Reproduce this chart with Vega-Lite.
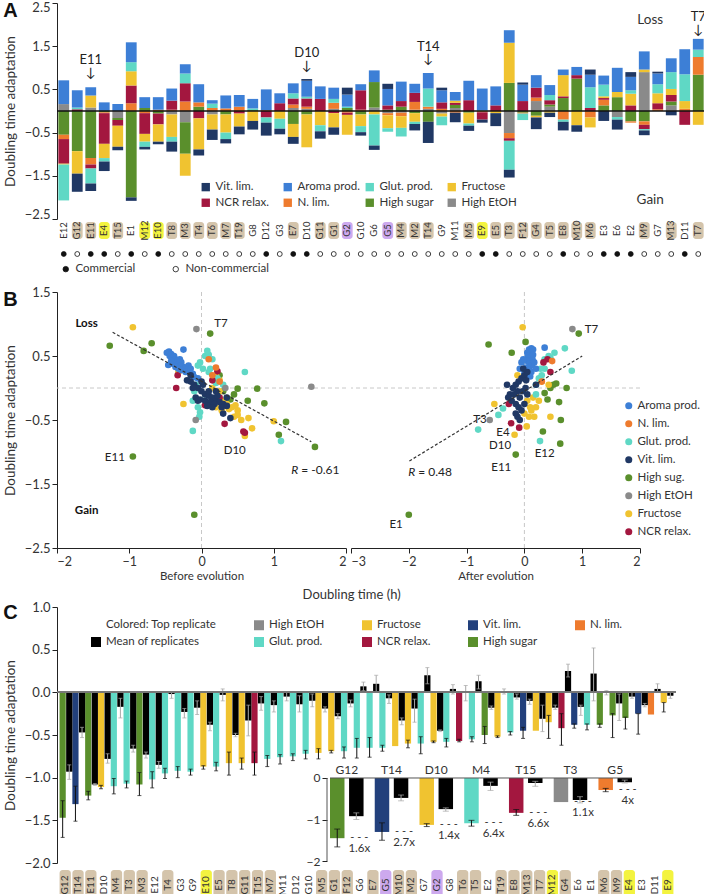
{
"$schema":"https://vega.github.io/schema/vega-lite/v6.json",
"padding":{"left":3,"top":1,"right":0,"bottom":0},
"spacing":-1,
"config":{"font":"Lato","view":{"stroke":null},
 "axis":{"labelFontSize":13,"titleFontSize":13.5,"titleFontWeight":"normal","labelColor":"#333","titleColor":"#333","domainColor":"#222","tickColor":"#222","grid":false,"tickSize":5,"labelPadding":2},
 "axisY":{"titlePadding":7},
 "legend":{"labelFontSize":11.5,"labelColor":"#333"},
 "title":{"font":"Liberation Sans","fontSize":20,"fontWeight":"bold","color":"#111","anchor":"start","frame":"bounds"}},
"resolve":{"scale":{"color":"independent","fill":"independent","x":"independent","y":"independent"},"legend":{"color":"independent","fill":"independent"}},
"datasets":{
"cats":[{"c":"High EtOH","k":1},{"c":"High sugar","k":2},{"c":"N. lim.","k":3},{"c":"NCR relax.","k":4},{"c":"Fructose","k":5},{"c":"Glut. prod.","k":6},{"c":"Aroma prod.","k":7},{"c":"Vit. lim.","k":8}],
"aBars":[
{"s":"E12","c":"High EtOH","v":0.16},{"s":"E12","c":"Aroma prod.","v":0.55},{"s":"E12","c":"High sugar","v":-0.55},{"s":"E12","c":"N. lim.","v":-0.1},{"s":"E12","c":"NCR relax.","v":-0.57},{"s":"E12","c":"Fructose","v":-0.02},{"s":"E12","c":"Glut. prod.","v":-0.83},
{"s":"G12","c":"NCR relax.","v":0.04},{"s":"G12","c":"Glut. prod.","v":0.04},{"s":"G12","c":"Aroma prod.","v":0.4},{"s":"G12","c":"High sugar","v":-0.93},{"s":"G12","c":"Fructose","v":-0.52},{"s":"G12","c":"Vit. lim.","v":-0.42},
{"s":"E11","c":"High EtOH","v":0.08},{"s":"E11","c":"Fructose","v":0.28},{"s":"E11","c":"Aroma prod.","v":0.19},{"s":"E11","c":"High sugar","v":-1.09},{"s":"E11","c":"N. lim.","v":-0.15},{"s":"E11","c":"NCR relax.","v":-0.09},{"s":"E11","c":"Glut. prod.","v":-0.35},{"s":"E11","c":"Vit. lim.","v":-0.17},
{"s":"E4","c":"Aroma prod.","v":0.2},{"s":"E4","c":"High sugar","v":-0.03},{"s":"E4","c":"N. lim.","v":-0.02},{"s":"E4","c":"NCR relax.","v":-0.71},{"s":"E4","c":"Fructose","v":-0.33},{"s":"E4","c":"Glut. prod.","v":-0.08},{"s":"E4","c":"Vit. lim.","v":-0.22},
{"s":"T15","c":"Aroma prod.","v":0.16},{"s":"T15","c":"High EtOH","v":-0.16},{"s":"T15","c":"High sugar","v":-0.05},{"s":"T15","c":"NCR relax.","v":-0.13},{"s":"T15","c":"Fructose","v":-0.49},{"s":"T15","c":"Vit. lim.","v":-0.08},
{"s":"E1","c":"N. lim.","v":0.18},{"s":"E1","c":"NCR relax.","v":0.41},{"s":"E1","c":"Fructose","v":0.33},{"s":"E1","c":"Glut. prod.","v":0.21},{"s":"E1","c":"Aroma prod.","v":0.46},{"s":"E1","c":"High sugar","v":-2.0},{"s":"E1","c":"Vit. lim.","v":-0.08},
{"s":"M12","c":"High sugar","v":0.07},{"s":"M12","c":"Aroma prod.","v":0.25},{"s":"M12","c":"N. lim.","v":-0.05},{"s":"M12","c":"NCR relax.","v":-0.48},{"s":"M12","c":"Fructose","v":-0.18},{"s":"M12","c":"Glut. prod.","v":-0.12},{"s":"M12","c":"Vit. lim.","v":-0.06},
{"s":"E10","c":"N. lim.","v":0.03},{"s":"E10","c":"Aroma prod.","v":0.29},{"s":"E10","c":"High sugar","v":-0.06},{"s":"E10","c":"NCR relax.","v":-0.25},{"s":"E10","c":"Fructose","v":-0.4},{"s":"E10","c":"Vit. lim.","v":-0.06},
{"s":"T8","c":"N. lim.","v":0.03},{"s":"T8","c":"NCR relax.","v":0.21},{"s":"T8","c":"Aroma prod.","v":0.28},{"s":"T8","c":"High EtOH","v":-0.08},{"s":"T8","c":"Fructose","v":-0.52},{"s":"T8","c":"Glut. prod.","v":-0.11},{"s":"T8","c":"Vit. lim.","v":-0.23},
{"s":"M3","c":"N. lim.","v":0.22},{"s":"M3","c":"NCR relax.","v":0.42},{"s":"M3","c":"Glut. prod.","v":0.23},{"s":"M3","c":"Aroma prod.","v":0.21},{"s":"M3","c":"High EtOH","v":-0.26},{"s":"M3","c":"High sugar","v":-0.73},{"s":"M3","c":"Fructose","v":-0.51},
{"s":"T4","c":"High sugar","v":0.1},{"s":"T4","c":"N. lim.","v":0.1},{"s":"T4","c":"Aroma prod.","v":0.42},{"s":"T4","c":"NCR relax.","v":-0.17},{"s":"T4","c":"Fructose","v":-0.72},{"s":"T4","c":"Vit. lim.","v":-0.14},
{"s":"T6","c":"N. lim.","v":0.07},{"s":"T6","c":"Glut. prod.","v":0.1},{"s":"T6","c":"Aroma prod.","v":0.08},{"s":"T6","c":"High EtOH","v":-0.08},{"s":"T6","c":"Fructose","v":-0.35},{"s":"T6","c":"Vit. lim.","v":-0.24},
{"s":"M7","c":"N. lim.","v":0.06},{"s":"M7","c":"Aroma prod.","v":0.3},{"s":"M7","c":"High sugar","v":-0.08},{"s":"M7","c":"Fructose","v":-0.42},{"s":"M7","c":"Glut. prod.","v":-0.15},{"s":"M7","c":"Vit. lim.","v":-0.1},
{"s":"T19","c":"N. lim.","v":0.1},{"s":"T19","c":"Aroma prod.","v":0.27},{"s":"T19","c":"NCR relax.","v":-0.06},{"s":"T19","c":"Fructose","v":-0.3},{"s":"T19","c":"Vit. lim.","v":-0.18},
{"s":"G8","c":"High sugar","v":0.02},{"s":"G8","c":"Glut. prod.","v":0.04},{"s":"G8","c":"Aroma prod.","v":0.22},{"s":"G8","c":"Fructose","v":-0.23},{"s":"G8","c":"Vit. lim.","v":-0.2},
{"s":"D12","c":"N. lim.","v":0.02},{"s":"D12","c":"Aroma prod.","v":0.48},{"s":"D12","c":"NCR relax.","v":-0.15},{"s":"D12","c":"Glut. prod.","v":-0.12},{"s":"D12","c":"Vit. lim.","v":-0.3},
{"s":"G3","c":"NCR relax.","v":0.18},{"s":"G3","c":"Aroma prod.","v":0.23},{"s":"G3","c":"Fructose","v":-0.18},{"s":"G3","c":"Glut. prod.","v":-0.23},{"s":"G3","c":"Vit. lim.","v":-0.13},
{"s":"E7","c":"High EtOH","v":0.07},{"s":"E7","c":"N. lim.","v":0.08},{"s":"E7","c":"NCR relax.","v":0.14},{"s":"E7","c":"Glut. prod.","v":0.12},{"s":"E7","c":"Aroma prod.","v":0.23},{"s":"E7","c":"High sugar","v":-0.3},{"s":"E7","c":"Fructose","v":-0.3},{"s":"E7","c":"Vit. lim.","v":-0.16},
{"s":"D10","c":"High EtOH","v":0.05},{"s":"D10","c":"N. lim.","v":0.05},{"s":"D10","c":"NCR relax.","v":0.19},{"s":"D10","c":"Glut. prod.","v":0.04},{"s":"D10","c":"Aroma prod.","v":0.37},{"s":"D10","c":"Vit. lim.","v":0.04},{"s":"D10","c":"High sugar","v":-0.08},{"s":"D10","c":"Fructose","v":-0.76},
{"s":"G11","c":"NCR relax.","v":0.28},{"s":"G11","c":"Aroma prod.","v":0.29},{"s":"G11","c":"Fructose","v":-0.33},{"s":"G11","c":"Glut. prod.","v":-0.14},{"s":"G11","c":"Vit. lim.","v":-0.17},
{"s":"G1","c":"High EtOH","v":0.05},{"s":"G1","c":"N. lim.","v":0.14},{"s":"G1","c":"Glut. prod.","v":0.09},{"s":"G1","c":"Aroma prod.","v":0.26},{"s":"G1","c":"NCR relax.","v":-0.05},{"s":"G1","c":"Fructose","v":-0.33},{"s":"G1","c":"Vit. lim.","v":-0.17},
{"s":"G2","c":"High sugar","v":0.07},{"s":"G2","c":"Glut. prod.","v":0.03},{"s":"G2","c":"Aroma prod.","v":0.28},{"s":"G2","c":"Vit. lim.","v":0.16},{"s":"G2","c":"N. lim.","v":-0.04},{"s":"G2","c":"NCR relax.","v":-0.05},{"s":"G2","c":"Fructose","v":-0.46},
{"s":"G10","c":"N. lim.","v":0.03},{"s":"G10","c":"NCR relax.","v":0.45},{"s":"G10","c":"Aroma prod.","v":0.14},{"s":"G10","c":"High sugar","v":-0.08},{"s":"G10","c":"Fructose","v":-0.27},{"s":"G10","c":"Glut. prod.","v":-0.14},{"s":"G10","c":"Vit. lim.","v":-0.08},
{"s":"G6","c":"High EtOH","v":0.08},{"s":"G6","c":"High sugar","v":0.59},{"s":"G6","c":"Aroma prod.","v":0.27},{"s":"G6","c":"Fructose","v":-0.08},{"s":"G6","c":"Glut. prod.","v":-0.72},{"s":"G6","c":"Vit. lim.","v":-0.1},
{"s":"G5","c":"High sugar","v":0.03},{"s":"G5","c":"NCR relax.","v":0.1},{"s":"G5","c":"Aroma prod.","v":0.38},{"s":"G5","c":"Vit. lim.","v":0.12},{"s":"G5","c":"High EtOH","v":-0.05},{"s":"G5","c":"N. lim.","v":-0.05},{"s":"G5","c":"Fructose","v":-0.3},{"s":"G5","c":"Glut. prod.","v":-0.08},
{"s":"M4","c":"High sugar","v":0.1},{"s":"M4","c":"NCR relax.","v":0.13},{"s":"M4","c":"Aroma prod.","v":0.45},{"s":"M4","c":"High EtOH","v":-0.04},{"s":"M4","c":"N. lim.","v":-0.08},{"s":"M4","c":"Fructose","v":-0.27},{"s":"M4","c":"Glut. prod.","v":-0.2},
{"s":"M2","c":"High EtOH","v":0.03},{"s":"M2","c":"N. lim.","v":0.18},{"s":"M2","c":"NCR relax.","v":0.21},{"s":"M2","c":"Aroma prod.","v":0.21},{"s":"M2","c":"High sugar","v":-0.05},{"s":"M2","c":"Fructose","v":-0.2},{"s":"M2","c":"Glut. prod.","v":-0.05},{"s":"M2","c":"Vit. lim.","v":-0.15},
{"s":"T14","c":"High EtOH","v":0.05},{"s":"T14","c":"N. lim.","v":0.05},{"s":"T14","c":"Glut. prod.","v":0.42},{"s":"T14","c":"Aroma prod.","v":0.36},{"s":"T14","c":"High sugar","v":-0.25},{"s":"T14","c":"Vit. lim.","v":-0.49},
{"s":"G9","c":"N. lim.","v":0.05},{"s":"G9","c":"NCR relax.","v":0.15},{"s":"G9","c":"Aroma prod.","v":0.28},{"s":"G9","c":"Vit. lim.","v":0.06},{"s":"G9","c":"High EtOH","v":-0.06},{"s":"G9","c":"Fructose","v":-0.07},{"s":"G9","c":"Glut. prod.","v":-0.2},
{"s":"M11","c":"High EtOH","v":0.07},{"s":"M11","c":"High sugar","v":0.07},{"s":"M11","c":"NCR relax.","v":0.05},{"s":"M11","c":"Fructose","v":0.05},{"s":"M11","c":"Aroma prod.","v":0.2},{"s":"M11","c":"N. lim.","v":-0.04},{"s":"M11","c":"Vit. lim.","v":-0.22},
{"s":"M5","c":"NCR relax.","v":0.25},{"s":"M5","c":"Aroma prod.","v":0.45},{"s":"M5","c":"High sugar","v":-0.04},{"s":"M5","c":"Fructose","v":-0.25},{"s":"M5","c":"Glut. prod.","v":-0.05},{"s":"M5","c":"Vit. lim.","v":-0.12},
{"s":"E9","c":"Glut. prod.","v":0.02},{"s":"E9","c":"Aroma prod.","v":0.5},{"s":"E9","c":"N. lim.","v":-0.03},{"s":"E9","c":"NCR relax.","v":-0.17},{"s":"E9","c":"Vit. lim.","v":-0.07},
{"s":"E5","c":"NCR relax.","v":0.13},{"s":"E5","c":"Aroma prod.","v":0.44},{"s":"E5","c":"Fructose","v":-0.05},{"s":"E5","c":"Vit. lim.","v":-0.3},
{"s":"T3","c":"High sugar","v":0.65},{"s":"T3","c":"Fructose","v":0.93},{"s":"T3","c":"Aroma prod.","v":0.29},{"s":"T3","c":"High EtOH","v":-0.51},{"s":"T3","c":"N. lim.","v":-0.12},{"s":"T3","c":"NCR relax.","v":-0.06},{"s":"T3","c":"Glut. prod.","v":-0.67},{"s":"T3","c":"Vit. lim.","v":-0.18},
{"s":"F12","c":"NCR relax.","v":0.23},{"s":"F12","c":"Aroma prod.","v":0.38},{"s":"F12","c":"Vit. lim.","v":0.05},{"s":"F12","c":"High sugar","v":-0.04},{"s":"F12","c":"N. lim.","v":-0.02},{"s":"F12","c":"Glut. prod.","v":-0.15},
{"s":"G4","c":"High EtOH","v":0.23},{"s":"G4","c":"N. lim.","v":0.08},{"s":"G4","c":"NCR relax.","v":0.23},{"s":"G4","c":"Aroma prod.","v":0.29},{"s":"G4","c":"High sugar","v":-0.11},{"s":"G4","c":"Fructose","v":-0.04},{"s":"G4","c":"Vit. lim.","v":-0.27},
{"s":"T5","c":"High EtOH","v":0.1},{"s":"T5","c":"High sugar","v":0.05},{"s":"T5","c":"NCR relax.","v":0.1},{"s":"T5","c":"Glut. prod.","v":0.12},{"s":"T5","c":"Aroma prod.","v":0.23},{"s":"T5","c":"Fructose","v":-0.04},{"s":"T5","c":"Vit. lim.","v":-0.1},
{"s":"E8","c":"High sugar","v":0.3},{"s":"E8","c":"NCR relax.","v":0.04},{"s":"E8","c":"Fructose","v":0.49},{"s":"E8","c":"Aroma prod.","v":0.13},{"s":"E8","c":"N. lim.","v":-0.2},{"s":"E8","c":"Glut. prod.","v":-0.05},{"s":"E8","c":"Vit. lim.","v":-0.2},
{"s":"M10","c":"High sugar","v":0.75},{"s":"M10","c":"NCR relax.","v":0.08},{"s":"M10","c":"Aroma prod.","v":0.19},{"s":"M10","c":"Fructose","v":-0.33},{"s":"M10","c":"Vit. lim.","v":-0.15},
{"s":"M6","c":"NCR relax.","v":0.07},{"s":"M6","c":"Glut. prod.","v":0.48},{"s":"M6","c":"Aroma prod.","v":0.29},{"s":"M6","c":"Vit. lim.","v":0.12},{"s":"M6","c":"N. lim.","v":-0.15},{"s":"M6","c":"Fructose","v":-0.23},
{"s":"E3","c":"High sugar","v":0.13},{"s":"E3","c":"N. lim.","v":0.13},{"s":"E3","c":"NCR relax.","v":0.04},{"s":"E3","c":"Fructose","v":0.04},{"s":"E3","c":"Glut. prod.","v":0.27},{"s":"E3","c":"Aroma prod.","v":0.21},{"s":"E3","c":"Vit. lim.","v":-0.23},
{"s":"E6","c":"High sugar","v":0.32},{"s":"E6","c":"Fructose","v":0.12},{"s":"E6","c":"Aroma prod.","v":0.56},{"s":"E6","c":"High EtOH","v":-0.14},{"s":"E6","c":"Glut. prod.","v":-0.06},{"s":"E6","c":"Vit. lim.","v":-0.23},
{"s":"E2","c":"NCR relax.","v":0.13},{"s":"E2","c":"Fructose","v":0.27},{"s":"E2","c":"Glut. prod.","v":0.08},{"s":"E2","c":"Aroma prod.","v":0.31},{"s":"E2","c":"Vit. lim.","v":0.11},{"s":"E2","c":"High sugar","v":-0.24},{"s":"E2","c":"N. lim.","v":-0.03},
{"s":"M9","c":"High EtOH","v":0.9},{"s":"M9","c":"Fructose","v":0.06},{"s":"M9","c":"Aroma prod.","v":0.42},{"s":"M9","c":"High sugar","v":-0.24},{"s":"M9","c":"N. lim.","v":-0.08},{"s":"M9","c":"NCR relax.","v":-0.1},{"s":"M9","c":"Glut. prod.","v":-0.03},{"s":"M9","c":"Vit. lim.","v":-0.11},
{"s":"G7","c":"N. lim.","v":0.04},{"s":"G7","c":"NCR relax.","v":0.14},{"s":"G7","c":"Fructose","v":0.23},{"s":"G7","c":"Glut. prod.","v":0.21},{"s":"G7","c":"Aroma prod.","v":0.25},{"s":"G7","c":"Vit. lim.","v":0.04},
{"s":"M13","c":"High EtOH","v":0.13},{"s":"M13","c":"High sugar","v":0.09},{"s":"M13","c":"NCR relax.","v":0.15},{"s":"M13","c":"Fructose","v":0.14},{"s":"M13","c":"Glut. prod.","v":0.39},{"s":"M13","c":"Aroma prod.","v":0.32},{"s":"M13","c":"Vit. lim.","v":-0.1},
{"s":"D11","c":"N. lim.","v":0.05},{"s":"D11","c":"Fructose","v":0.18},{"s":"D11","c":"Glut. prod.","v":0.62},{"s":"D11","c":"Aroma prod.","v":0.58},{"s":"D11","c":"NCR relax.","v":-0.32},
{"s":"T7","c":"High sugar","v":0.84},{"s":"T7","c":"N. lim.","v":0.41},{"s":"T7","c":"Glut. prod.","v":0.17},{"s":"T7","c":"Aroma prod.","v":0.25},{"s":"T7","c":"Fructose","v":-0.32}
],
"aNotes":[{"s":"E11","t":"E11","y":1.18},{"s":"E11","t":"↓","y":0.88},{"s":"D10","t":"D10","y":1.34},{"s":"D10","t":"↓","y":1.04},{"s":"T14","t":"T14","y":1.48},{"s":"T14","t":"↓","y":1.2},{"s":"T7","t":"T7","y":2.18},{"s":"T7","t":"↓","y":1.87}],
"aLG":[{"s":"M9","t":"Loss","y":2.1},{"s":"M9","t":"Gain","y":-2.06}],
"strains":[
{"s":"E12","h":"none","com":"Commercial"},{"s":"G12","h":"tan","com":"Non-commercial"},{"s":"E11","h":"tan","com":"Commercial"},{"s":"E4","h":"yellow","com":"Commercial"},{"s":"T15","h":"tan","com":"Non-commercial"},{"s":"E1","h":"none","com":"Commercial"},{"s":"M12","h":"yellow","com":"Non-commercial"},{"s":"E10","h":"yellow","com":"Commercial"},{"s":"T8","h":"tan","com":"Non-commercial"},{"s":"M3","h":"tan","com":"Non-commercial"},{"s":"T4","h":"tan","com":"Non-commercial"},{"s":"T6","h":"tan","com":"Non-commercial"},{"s":"M7","h":"tan","com":"Non-commercial"},{"s":"T19","h":"tan","com":"Non-commercial"},{"s":"G8","h":"none","com":"Non-commercial"},{"s":"D12","h":"none","com":"Commercial"},{"s":"G3","h":"none","com":"Non-commercial"},{"s":"E7","h":"tan","com":"Commercial"},{"s":"D10","h":"none","com":"Commercial"},{"s":"G11","h":"tan","com":"Non-commercial"},{"s":"G1","h":"tan","com":"Non-commercial"},{"s":"G2","h":"purple","com":"Non-commercial"},{"s":"G10","h":"none","com":"Non-commercial"},{"s":"G6","h":"none","com":"Non-commercial"},{"s":"G5","h":"purple","com":"Non-commercial"},{"s":"M4","h":"tan","com":"Non-commercial"},{"s":"M2","h":"tan","com":"Non-commercial"},{"s":"T14","h":"tan","com":"Non-commercial"},{"s":"G9","h":"none","com":"Non-commercial"},{"s":"M11","h":"none","com":"Non-commercial"},{"s":"M5","h":"tan","com":"Non-commercial"},{"s":"E9","h":"yellow","com":"Commercial"},{"s":"E5","h":"tan","com":"Commercial"},{"s":"T3","h":"tan","com":"Non-commercial"},{"s":"F12","h":"tan","com":"Non-commercial"},{"s":"G4","h":"tan","com":"Non-commercial"},{"s":"T5","h":"tan","com":"Non-commercial"},{"s":"E8","h":"tan","com":"Commercial"},{"s":"M10","h":"tan","com":"Non-commercial"},{"s":"M6","h":"tan","com":"Non-commercial"},{"s":"E3","h":"none","com":"Commercial"},{"s":"E6","h":"none","com":"Commercial"},{"s":"E2","h":"none","com":"Commercial"},{"s":"M9","h":"tan","com":"Non-commercial"},{"s":"G7","h":"none","com":"Non-commercial"},{"s":"M13","h":"tan","com":"Non-commercial"},{"s":"D11","h":"none","com":"Commercial"},{"s":"T7","h":"tan","com":"Non-commercial"}],
"pb":[
{"c":"High sugar","x":-1.27,"y":0.66},{"c":"High sugar","x":-0.8,"y":0.58},{"c":"High sugar","x":-0.69,"y":0.7},{"c":"High sugar","x":0.12,"y":0.85},{"c":"High sugar","x":0.5,"y":-0.01},{"c":"High sugar","x":0.45,"y":-0.1},{"c":"High sugar","x":0.4,"y":-0.18},{"c":"High sugar","x":0.77,"y":-0.01},{"c":"High sugar","x":0.64,"y":-0.2},{"c":"High sugar","x":0.87,"y":-0.24},{"c":"High sugar","x":1.17,"y":-0.53},{"c":"High sugar","x":1.07,"y":-0.73},{"c":"High sugar","x":1.57,"y":-0.92},{"c":"High sugar","x":-0.95,"y":-1.07},{"c":"High sugar","x":-0.1,"y":-1.98},{"c":"High sugar","x":0.25,"y":0.2},{"c":"High sugar","x":0.3,"y":-0.05},
{"c":"Fructose","x":-0.95,"y":0.95},{"c":"Fructose","x":-0.25,"y":-0.25},{"c":"Fructose","x":-0.32,"y":0.25},{"c":"Fructose","x":0.2,"y":0.2},{"c":"Fructose","x":0.25,"y":0.12},{"c":"Fructose","x":0.42,"y":-0.3},{"c":"Fructose","x":0.47,"y":-0.27},{"c":"Fructose","x":0.5,"y":-0.35},{"c":"Fructose","x":0.55,"y":-0.5},{"c":"Fructose","x":0.65,"y":-0.47},{"c":"Fructose","x":0.7,"y":-0.63},{"c":"Fructose","x":0.6,"y":-0.75},{"c":"Fructose","x":1.0,"y":-0.52},{"c":"Fructose","x":0.3,"y":-0.2},{"c":"Fructose","x":0.35,"y":-0.25},{"c":"Fructose","x":0.25,"y":-0.05},{"c":"Fructose","x":0.15,"y":0.0},{"c":"Fructose","x":0.28,"y":-0.35},{"c":"Fructose","x":0.5,"y":-0.42},{"c":"Fructose","x":0.45,"y":-0.45},{"c":"Fructose","x":0.38,"y":-0.33},{"c":"Fructose","x":0.2,"y":-0.3},{"c":"Fructose","x":0.18,"y":0.12},
{"c":"Glut. prod.","x":0.05,"y":0.5},{"c":"Glut. prod.","x":0.1,"y":0.52},{"c":"Glut. prod.","x":0.08,"y":0.58},{"c":"Glut. prod.","x":0.12,"y":0.3},{"c":"Glut. prod.","x":0.1,"y":0.25},{"c":"Glut. prod.","x":-0.02,"y":0.4},{"c":"Glut. prod.","x":0.15,"y":0.45},{"c":"Glut. prod.","x":0.6,"y":0.25},{"c":"Glut. prod.","x":-0.12,"y":-0.67},{"c":"Glut. prod.","x":1.1,"y":-0.83},{"c":"Glut. prod.","x":-0.05,"y":-0.3},{"c":"Glut. prod.","x":-0.02,"y":-0.38},{"c":"Glut. prod.","x":-0.03,"y":-0.45},{"c":"Glut. prod.","x":0.05,"y":-0.1},{"c":"Glut. prod.","x":-0.08,"y":0.05},{"c":"Glut. prod.","x":0.2,"y":0.08},{"c":"Glut. prod.","x":-0.1,"y":-0.05},{"c":"Glut. prod.","x":0.3,"y":0.05},{"c":"Glut. prod.","x":0.22,"y":0.15},{"c":"Glut. prod.","x":-0.05,"y":0.35},{"c":"Glut. prod.","x":0.02,"y":0.3},{"c":"Glut. prod.","x":-0.12,"y":-0.2},
{"c":"NCR relax.","x":-0.35,"y":0.0},{"c":"NCR relax.","x":-0.33,"y":0.2},{"c":"NCR relax.","x":0.22,"y":0.26},{"c":"NCR relax.","x":0.32,"y":-0.56},{"c":"NCR relax.","x":0.58,"y":-0.68},{"c":"NCR relax.","x":0.6,"y":-0.7},{"c":"NCR relax.","x":0.15,"y":0.12},{"c":"NCR relax.","x":0.05,"y":-0.27},{"c":"NCR relax.","x":0.25,"y":-0.15},
{"c":"N. lim.","x":0.1,"y":0.45},{"c":"N. lim.","x":0.2,"y":0.32},{"c":"N. lim.","x":0.25,"y":0.1},{"c":"N. lim.","x":0.15,"y":0.2},
{"c":"High EtOH","x":-0.07,"y":0.92},{"c":"High EtOH","x":1.52,"y":0.02},{"c":"High EtOH","x":0.33,"y":0.0},{"c":"High EtOH","x":-0.08,"y":-0.5},
{"c":"Aroma prod.","x":-0.48,"y":0.55},{"c":"Aroma prod.","x":-0.45,"y":0.57},{"c":"Aroma prod.","x":-0.44,"y":0.5},{"c":"Aroma prod.","x":-0.42,"y":0.53},{"c":"Aroma prod.","x":-0.4,"y":0.48},{"c":"Aroma prod.","x":-0.38,"y":0.5},{"c":"Aroma prod.","x":-0.36,"y":0.45},{"c":"Aroma prod.","x":-0.35,"y":0.4},{"c":"Aroma prod.","x":-0.33,"y":0.43},{"c":"Aroma prod.","x":-0.31,"y":0.38},{"c":"Aroma prod.","x":-0.3,"y":0.35},{"c":"Aroma prod.","x":-0.28,"y":0.4},{"c":"Aroma prod.","x":-0.26,"y":0.33},{"c":"Aroma prod.","x":-0.25,"y":0.6},{"c":"Aroma prod.","x":-0.24,"y":0.3},{"c":"Aroma prod.","x":-0.22,"y":0.32},{"c":"Aroma prod.","x":-0.2,"y":0.27},{"c":"Aroma prod.","x":-0.18,"y":0.3},{"c":"Aroma prod.","x":-0.16,"y":0.24},{"c":"Aroma prod.","x":-0.14,"y":0.2},{"c":"Aroma prod.","x":-0.12,"y":0.22},{"c":"Aroma prod.","x":-0.1,"y":0.17},{"c":"Aroma prod.","x":-0.46,"y":0.36},{"c":"Aroma prod.","x":-0.4,"y":0.38},{"c":"Aroma prod.","x":-0.36,"y":0.33},{"c":"Aroma prod.","x":-0.32,"y":0.3},{"c":"Aroma prod.","x":-0.28,"y":0.28},{"c":"Aroma prod.","x":-0.22,"y":0.25},{"c":"Aroma prod.","x":-0.18,"y":0.35},{"c":"Aroma prod.","x":-0.42,"y":0.42},{"c":"Aroma prod.","x":-0.3,"y":0.45},{"c":"Aroma prod.","x":-0.15,"y":0.3},{"c":"Aroma prod.","x":-0.05,"y":0.15},
{"c":"Vit. lim.","x":-0.2,"y":0.12},{"c":"Vit. lim.","x":-0.15,"y":0.1},{"c":"Vit. lim.","x":-0.1,"y":0.05},{"c":"Vit. lim.","x":-0.05,"y":0.0},{"c":"Vit. lim.","x":0.0,"y":-0.05},{"c":"Vit. lim.","x":0.05,"y":-0.1},{"c":"Vit. lim.","x":0.1,"y":-0.12},{"c":"Vit. lim.","x":0.15,"y":-0.15},{"c":"Vit. lim.","x":0.2,"y":-0.2},{"c":"Vit. lim.","x":0.25,"y":-0.22},{"c":"Vit. lim.","x":0.3,"y":-0.25},{"c":"Vit. lim.","x":0.35,"y":-0.28},{"c":"Vit. lim.","x":-0.08,"y":-0.15},{"c":"Vit. lim.","x":-0.02,"y":-0.18},{"c":"Vit. lim.","x":0.05,"y":-0.2},{"c":"Vit. lim.","x":0.12,"y":-0.22},{"c":"Vit. lim.","x":0.18,"y":-0.25},{"c":"Vit. lim.","x":0.1,"y":-0.05},{"c":"Vit. lim.","x":0.02,"y":0.05},{"c":"Vit. lim.","x":-0.12,"y":0.0},{"c":"Vit. lim.","x":0.08,"y":-0.28},{"c":"Vit. lim.","x":0.22,"y":-0.12},{"c":"Vit. lim.","x":0.3,"y":-0.4},{"c":"Vit. lim.","x":0.4,"y":-0.47},{"c":"Vit. lim.","x":-0.05,"y":-0.2},{"c":"Vit. lim.","x":0.28,"y":-0.3},{"c":"Vit. lim.","x":0.15,"y":-0.3},{"c":"Vit. lim.","x":-0.15,"y":0.2},{"c":"Vit. lim.","x":0.0,"y":0.1},{"c":"Vit. lim.","x":0.2,"y":-0.05},{"c":"Vit. lim.","x":0.35,"y":-0.15}
],
"pa":[
{"c":"High sugar","x":-0.62,"y":0.68},{"c":"High sugar","x":-0.22,"y":0.55},{"c":"High sugar","x":0.02,"y":0.72},{"c":"High sugar","x":0.55,"y":0.07},{"c":"High sugar","x":0.73,"y":0.0},{"c":"High sugar","x":0.35,"y":-0.08},{"c":"High sugar","x":0.4,"y":-0.18},{"c":"High sugar","x":0.6,"y":-0.22},{"c":"High sugar","x":0.63,"y":-0.5},{"c":"High sugar","x":0.32,"y":-0.68},{"c":"High sugar","x":0.62,"y":-0.87},{"c":"High sugar","x":-0.15,"y":-1.04},{"c":"High sugar","x":-2.0,"y":-1.98},{"c":"High sugar","x":0.45,"y":0.0},{"c":"High sugar","x":0.5,"y":0.05},{"c":"High sugar","x":0.94,"y":0.85},
{"c":"Fructose","x":-0.03,"y":0.95},{"c":"Fructose","x":-0.12,"y":0.2},{"c":"Fructose","x":-0.52,"y":-0.25},{"c":"Fructose","x":-0.17,"y":-0.73},{"c":"Fructose","x":0.04,"y":-0.6},{"c":"Fructose","x":0.17,"y":-0.45},{"c":"Fructose","x":0.45,"y":-0.45},{"c":"Fructose","x":0.42,"y":0.05},{"c":"Fructose","x":0.1,"y":-0.3},{"c":"Fructose","x":0.0,"y":-0.4},{"c":"Fructose","x":0.05,"y":-0.2},{"c":"Fructose","x":0.15,"y":-0.15},{"c":"Fructose","x":0.2,"y":-0.3},{"c":"Fructose","x":0.3,"y":0.1},{"c":"Fructose","x":0.12,"y":-0.35},{"c":"Fructose","x":0.25,"y":-0.2},{"c":"Fructose","x":0.08,"y":-0.45},
{"c":"Glut. prod.","x":0.7,"y":0.62},{"c":"Glut. prod.","x":0.52,"y":0.55},{"c":"Glut. prod.","x":0.42,"y":0.5},{"c":"Glut. prod.","x":0.82,"y":0.27},{"c":"Glut. prod.","x":0.35,"y":0.3},{"c":"Glut. prod.","x":0.25,"y":0.15},{"c":"Glut. prod.","x":0.2,"y":0.05},{"c":"Glut. prod.","x":-0.8,"y":-0.65},{"c":"Glut. prod.","x":-0.45,"y":-0.42},{"c":"Glut. prod.","x":-0.37,"y":-0.32},{"c":"Glut. prod.","x":0.27,"y":-0.83},{"c":"Glut. prod.","x":0.28,"y":0.3},{"c":"Glut. prod.","x":0.3,"y":0.2},{"c":"Glut. prod.","x":0.2,"y":-0.1},{"c":"Glut. prod.","x":0.45,"y":0.47},{"c":"Glut. prod.","x":0.35,"y":0.45},
{"c":"NCR relax.","x":0.4,"y":0.45},{"c":"NCR relax.","x":0.45,"y":0.25},{"c":"NCR relax.","x":-0.23,"y":-0.55},{"c":"NCR relax.","x":-0.09,"y":-0.62},{"c":"NCR relax.","x":-0.27,"y":-0.25},{"c":"NCR relax.","x":0.33,"y":0.4},
{"c":"N. lim.","x":0.48,"y":0.42},{"c":"N. lim.","x":0.3,"y":0.1},
{"c":"High EtOH","x":0.83,"y":0.92},{"c":"High EtOH","x":-0.6,"y":-0.5},
{"c":"Aroma prod.","x":0.05,"y":0.55},{"c":"Aroma prod.","x":0.08,"y":0.6},{"c":"Aroma prod.","x":0.1,"y":0.58},{"c":"Aroma prod.","x":0.12,"y":0.62},{"c":"Aroma prod.","x":0.15,"y":0.6},{"c":"Aroma prod.","x":0.06,"y":0.5},{"c":"Aroma prod.","x":0.1,"y":0.48},{"c":"Aroma prod.","x":0.14,"y":0.45},{"c":"Aroma prod.","x":0.05,"y":0.42},{"c":"Aroma prod.","x":0.09,"y":0.38},{"c":"Aroma prod.","x":0.13,"y":0.35},{"c":"Aroma prod.","x":0.03,"y":0.32},{"c":"Aroma prod.","x":0.08,"y":0.28},{"c":"Aroma prod.","x":0.12,"y":0.25},{"c":"Aroma prod.","x":0.0,"y":0.22},{"c":"Aroma prod.","x":-0.05,"y":0.4},{"c":"Aroma prod.","x":-0.08,"y":0.3},{"c":"Aroma prod.","x":0.17,"y":0.4},{"c":"Aroma prod.","x":0.2,"y":0.3},{"c":"Aroma prod.","x":0.35,"y":0.63},{"c":"Aroma prod.","x":0.1,"y":0.18},{"c":"Aroma prod.","x":-0.02,"y":0.45},{"c":"Aroma prod.","x":0.15,"y":0.52},
{"c":"Vit. lim.","x":-0.2,"y":0.0},{"c":"Vit. lim.","x":-0.15,"y":0.05},{"c":"Vit. lim.","x":-0.1,"y":0.1},{"c":"Vit. lim.","x":-0.05,"y":0.15},{"c":"Vit. lim.","x":0.0,"y":0.2},{"c":"Vit. lim.","x":0.03,"y":0.12},{"c":"Vit. lim.","x":-0.12,"y":-0.05},{"c":"Vit. lim.","x":-0.18,"y":-0.1},{"c":"Vit. lim.","x":-0.08,"y":-0.15},{"c":"Vit. lim.","x":-0.03,"y":-0.05},{"c":"Vit. lim.","x":0.02,"y":0.0},{"c":"Vit. lim.","x":-0.25,"y":-0.1},{"c":"Vit. lim.","x":-0.22,"y":-0.2},{"c":"Vit. lim.","x":-0.15,"y":-0.25},{"c":"Vit. lim.","x":-0.1,"y":-0.3},{"c":"Vit. lim.","x":-0.05,"y":-0.35},{"c":"Vit. lim.","x":-0.12,"y":-0.45},{"c":"Vit. lim.","x":-0.08,"y":-0.5},{"c":"Vit. lim.","x":0.05,"y":-0.1},{"c":"Vit. lim.","x":0.2,"y":0.05},{"c":"Vit. lim.","x":-0.3,"y":0.05},{"c":"Vit. lim.","x":-0.28,"y":-0.15},{"c":"Vit. lim.","x":0.0,"y":-0.25},{"c":"Vit. lim.","x":0.05,"y":0.25},{"c":"Vit. lim.","x":-0.02,"y":0.3},{"c":"Vit. lim.","x":-0.15,"y":-0.4}
],
"fb":[{"x":-1.23,"y":0.87},{"x":1.52,"y":-0.84}],
"fa":[{"x":-1.99,"y":-1.14},{"x":1.0,"y":0.5}],
"nb":[{"t":"T7","x":0.27,"y":1.0},{"t":"E11","x":-1.2,"y":-1.09},{"t":"D10","x":0.46,"y":-0.98}],
"lb":[{"t":"Loss","x":-1.59,"y":1.0},{"t":"Gain","x":-1.59,"y":-1.92}],
"rb":[{"x":1.34,"y":-1.28,"t":"= -0.61"}],
"na":[{"t":"T7","x":1.16,"y":0.9},{"t":"T3","x":-0.77,"y":-0.5},{"t":"E4","x":-0.37,"y":-0.71},{"t":"D10","x":-0.42,"y":-0.9},{"t":"E12","x":0.35,"y":-1.03},{"t":"E11","x":-0.4,"y":-1.25},{"t":"E1","x":-2.22,"y":-2.14}],
"ra":[{"x":-1.89,"y":-1.31,"t":"= 0.48"}],
"cMain":[
{"s":"G12","c":"High sugar","t":-1.47,"tl":-1.27,"th":-1.7,"m":-0.93,"ml":-0.85,"mh":-1.02},
{"s":"T14","c":"Vit. lim.","t":-1.31,"tl":-1.1,"th":-1.51,"m":-0.47,"ml":-0.41,"mh":-0.53},
{"s":"E11","c":"High sugar","t":-1.21,"tl":-1.16,"th":-1.26,"m":-1.08,"ml":-1.07,"mh":-1.09},
{"s":"D10","c":"Fructose","t":-1.11,"tl":-1.09,"th":-1.13,"m":-0.78,"ml":-0.72,"mh":-0.83},
{"s":"M4","c":"Glut. prod.","t":-1.1,"tl":-1.01,"th":-1.19,"m":-0.17,"ml":-0.07,"mh":-0.3},
{"s":"T3","c":"Glut. prod.","t":-1.07,"tl":-1.04,"th":-1.12,"m":-0.66,"ml":-0.62,"mh":-0.7},
{"s":"M3","c":"High sugar","t":-1.08,"tl":-0.94,"th":-1.21,"m":-0.73,"ml":-0.7,"mh":-0.77},
{"s":"E12","c":"Glut. prod.","t":-1.02,"tl":-0.93,"th":-1.12,"m":-0.85,"ml":-0.81,"mh":-0.89},
{"s":"T4","c":"Glut. prod.","t":-0.95,"tl":-0.89,"th":-1.01,"m":-0.02,"ml":0.01,"mh":-0.07},
{"s":"G3","c":"Glut. prod.","t":-0.92,"tl":-0.87,"th":-1.0,"m":-0.23,"ml":-0.19,"mh":-0.3},
{"s":"G9","c":"Glut. prod.","t":-0.93,"tl":-0.9,"th":-0.97,"m":-0.18,"ml":-0.1,"mh":-0.26},
{"s":"E10","c":"Fructose","t":-0.87,"tl":-0.86,"th":-0.9,"m":-0.38,"ml":-0.35,"mh":-0.45},
{"s":"E5","c":"Glut. prod.","t":-0.87,"tl":-0.82,"th":-0.92,"m":-0.03,"ml":0.04,"mh":-0.1},
{"s":"T8","c":"Fructose","t":-0.83,"tl":-0.7,"th":-0.97,"m":-0.5,"ml":-0.48,"mh":-0.52},
{"s":"G11","c":"Fructose","t":-0.83,"tl":-0.77,"th":-0.9,"m":-0.33,"ml":-0.15,"mh":-0.51},
{"s":"T15","c":"NCR relax.","t":-0.83,"tl":-0.7,"th":-0.97,"m":-0.13,"ml":-0.05,"mh":-0.21},
{"s":"M7","c":"Glut. prod.","t":-0.78,"tl":-0.74,"th":-0.87,"m":-0.15,"ml":-0.1,"mh":-0.23},
{"s":"M11","c":"Glut. prod.","t":-0.76,"tl":-0.73,"th":-0.84,"m":-0.05,"ml":0.0,"mh":-0.1},
{"s":"D12","c":"Glut. prod.","t":-0.75,"tl":-0.72,"th":-0.8,"m":-0.14,"ml":-0.04,"mh":-0.23},
{"s":"G10","c":"Glut. prod.","t":-0.72,"tl":-0.68,"th":-0.78,"m":-0.1,"ml":-0.02,"mh":-0.17},
{"s":"M5","c":"Fructose","t":-0.71,"tl":-0.66,"th":-0.78,"m":-0.19,"ml":-0.17,"mh":-0.23},
{"s":"G1","c":"Fructose","t":-0.69,"tl":-0.68,"th":-0.71,"m":-0.28,"ml":-0.25,"mh":-0.31},
{"s":"F12","c":"Glut. prod.","t":-0.69,"tl":-0.64,"th":-0.77,"m":-0.13,"ml":-0.09,"mh":-0.17},
{"s":"G6","c":"Glut. prod.","t":-0.65,"tl":-0.54,"th":-0.77,"m":0.07,"ml":0.12,"mh":0.02},
{"s":"E7","c":"Glut. prod.","t":-0.65,"tl":-0.53,"th":-0.76,"m":0.1,"ml":0.2,"mh":0.0},
{"s":"G5","c":"Glut. prod.","t":-0.65,"tl":-0.62,"th":-0.69,"m":-0.07,"ml":-0.03,"mh":-0.13},
{"s":"M10","c":"Fructose","t":-0.63,"tl":null,"th":null,"m":-0.33,"ml":-0.3,"mh":-0.38},
{"s":"M2","c":"Fructose","t":-0.6,"tl":-0.56,"th":-0.65,"m":-0.19,"ml":-0.08,"mh":-0.35},
{"s":"G7","c":"Glut. prod.","t":-0.6,"tl":-0.52,"th":-0.72,"m":0.2,"ml":0.29,"mh":0.1},
{"s":"G2","c":"Fructose","t":-0.58,"tl":-0.57,"th":-0.59,"m":-0.45,"ml":-0.44,"mh":-0.46},
{"s":"G8","c":"Glut. prod.","t":-0.58,"tl":-0.54,"th":-0.64,"m":0.04,"ml":0.09,"mh":-0.02},
{"s":"T6","c":"NCR relax.","t":-0.57,"tl":-0.55,"th":-0.58,"m":0.0,"ml":0.08,"mh":-0.1},
{"s":"T5","c":"Glut. prod.","t":-0.55,"tl":-0.52,"th":-0.58,"m":0.13,"ml":0.2,"mh":0.04},
{"s":"E2","c":"High sugar","t":-0.5,"tl":-0.4,"th":-0.6,"m":-0.18,"ml":-0.16,"mh":-0.2},
{"s":"T19","c":"Fructose","t":-0.52,"tl":-0.51,"th":-0.53,"m":0.0,"ml":0.04,"mh":-0.02},
{"s":"E8","c":"Glut. prod.","t":-0.47,"tl":-0.46,"th":-0.5,"m":-0.06,"ml":-0.02,"mh":-0.08},
{"s":"M13","c":"Vit. lim.","t":-0.45,"tl":-0.41,"th":-0.54,"m":-0.1,"ml":-0.08,"mh":-0.14},
{"s":"T7","c":"Fructose","t":-0.45,"tl":null,"th":null,"m":-0.31,"ml":-0.15,"mh":-0.46},
{"s":"M12","c":"Fructose","t":-0.35,"tl":-0.27,"th":-0.54,"m":-0.18,"ml":-0.15,"mh":-0.2},
{"s":"G4","c":"NCR relax.","t":-0.42,"tl":-0.25,"th":-0.62,"m":0.25,"ml":0.33,"mh":0.18},
{"s":"E6","c":"Vit. lim.","t":-0.38,"tl":-0.37,"th":-0.42,"m":-0.17,"ml":-0.15,"mh":-0.27},
{"s":"E1","c":"Glut. prod.","t":-0.38,"tl":-0.37,"th":-0.44,"m":0.22,"ml":0.52,"mh":-0.1},
{"s":"M6","c":"High sugar","t":-0.38,"tl":-0.37,"th":-0.41,"m":0.0,"ml":0.02,"mh":-0.03},
{"s":"M9","c":"High sugar","t":-0.27,"tl":-0.25,"th":-0.53,"m":-0.13,"ml":-0.02,"mh":-0.33},
{"s":"E4","c":"High sugar","t":-0.3,"tl":-0.29,"th":-0.43,"m":-0.05,"ml":0.0,"mh":-0.07},
{"s":"E3","c":"Vit. lim.","t":-0.25,"tl":-0.25,"th":-0.49,"m":-0.15,"ml":-0.13,"mh":-0.17},
{"s":"D11","c":"N. lim.","t":-0.26,"tl":null,"th":null,"m":0.04,"ml":0.1,"mh":0.01},
{"s":"E9","c":"Fructose","t":-0.12,"tl":-0.12,"th":-0.23,"m":-0.04,"ml":0.0,"mh":-0.07}
],
"cInset":[
{"g":"G12","c":"High sugar","t":-1.45,"tl":-1.23,"th":-1.66,"m":-0.92,"ml":-0.84,"mh":-1.0,"f":"1.6x"},
{"g":"T14","c":"Vit. lim.","t":-1.3,"tl":-1.08,"th":-1.5,"m":-0.48,"ml":-0.41,"mh":-0.55,"f":"2.7x"},
{"g":"D10","c":"Fructose","t":-1.13,"tl":-1.1,"th":-1.17,"m":-0.75,"ml":-0.72,"mh":-0.8,"f":"1.4x"},
{"g":"M4","c":"Glut. prod.","t":-1.09,"tl":-1.02,"th":-1.16,"m":-0.19,"ml":-0.1,"mh":-0.3,"f":"6.4x"},
{"g":"T15","c":"NCR relax.","t":-0.84,"tl":-0.76,"th":-0.9,"m":-0.12,"ml":-0.08,"mh":-0.2,"f":"6.6x"},
{"g":"T3","c":"High EtOH","t":-0.58,"tl":null,"th":null,"m":-0.53,"ml":-0.45,"mh":-0.6,"f":"1.1x"},
{"g":"G5","c":"N. lim.","t":-0.29,"tl":-0.25,"th":-0.33,"m":-0.1,"ml":-0.05,"mh":-0.12,"f":"4x"}
]
},
"vconcat":[
{"width":648,"height":216,
 "title":{"text":"A","offset":-20},
 "layer":[
  {"data":{"name":"aBars"},
   "transform":[{"lookup":"c","from":{"data":{"name":"cats"},"key":"c","fields":["k"]}}],
   "mark":{"type":"bar"},
   "encoding":{
    "x":{"field":"s","type":"nominal","sort":["E12","G12","E11","E4","T15","E1","M12","E10","T8","M3","T4","T6","M7","T19","G8","D12","G3","E7","D10","G11","G1","G2","G10","G6","G5","M4","M2","T14","G9","M11","M5","E9","E5","T3","F12","G4","T5","E8","M10","M6","E3","E6","E2","M9","G7","M13","D11","T7"],"scale":{"paddingInner":0.2,"paddingOuter":0.1},"axis":null},
    "y":{"field":"v","type":"quantitative","stack":"zero","scale":{"domain":[-2.5,2.5],"nice":false},"axis":{"values":[-2.5,-1.5,-0.5,0.5,1.5,2.5],"format":".1f","title":"Doubling time adaptation","labelOverlap":false,"labelFlush":true,"labelFlushOffset":2}},
    "color":{"field":"c","type":"nominal","scale":{"domain":["Vit. lim.","Aroma prod.","Glut. prod.","Fructose","NCR relax.","N. lim.","High sugar","High EtOH"],"range":["#203864","#3d7fd6","#5fd8c5","#f0c330","#a3173f","#ee7b2e","#5a8f2c","#8a8a8a"]},
      "legend":{"orient":"none","legendX":143,"legendY":178,"columns":4,"direction":"horizontal","title":null,"symbolType":"square","symbolSize":70,"gridAlign":"all","columnPadding":4,"rowPadding":3,"labelFontSize":11.5}},
    "order":{"field":"k","type":"quantitative","sort":"ascending"}}},
  {"data":{"values":[{}]},"mark":{"type":"rule","color":"#111","strokeWidth":1.5},"encoding":{"y":{"datum":0,"type":"quantitative"}}},
  {"data":{"name":"aNotes"},"mark":{"type":"text","fontSize":13,"color":"#222"},
   "encoding":{"x":{"field":"s","type":"nominal","sort":["E12","G12","E11","E4","T15","E1","M12","E10","T8","M3","T4","T6","M7","T19","G8","D12","G3","E7","D10","G11","G1","G2","G10","G6","G5","M4","M2","T14","G9","M11","M5","E9","E5","T3","F12","G4","T5","E8","M10","M6","E3","E6","E2","M9","G7","M13","D11","T7"]},"y":{"field":"y","type":"quantitative"},"text":{"field":"t"}}},
  {"data":{"name":"aLG"},"mark":{"type":"text","fontSize":13.5,"color":"#333","dx":6},
   "encoding":{"x":{"field":"s","type":"nominal","sort":["E12","G12","E11","E4","T15","E1","M12","E10","T8","M3","T4","T6","M7","T19","G8","D12","G3","E7","D10","G11","G1","G2","G10","G6","G5","M4","M2","T14","G9","M11","M5","E9","E5","T3","F12","G4","T5","E8","M10","M6","E3","E6","E2","M9","G7","M13","D11","T7"]},"y":{"field":"y","type":"quantitative"},"text":{"field":"t"}}}
 ]},
{"width":648,"height":17,"data":{"name":"strains"},
 "layer":[
  {"mark":{"type":"bar","cornerRadius":3},
   "encoding":{"x":{"field":"s","type":"nominal","sort":["E12","G12","E11","E4","T15","E1","M12","E10","T8","M3","T4","T6","M7","T19","G8","D12","G3","E7","D10","G11","G1","G2","G10","G6","G5","M4","M2","T14","G9","M11","M5","E9","E5","T3","F12","G4","T5","E8","M10","M6","E3","E6","E2","M9","G7","M13","D11","T7"],"scale":{"paddingInner":0.2,"paddingOuter":0.1},"axis":null},
    "color":{"field":"h","type":"nominal","scale":{"domain":["tan","yellow","purple","none"],"range":["#d4c4ab","#f3f33f","#cda9ee","rgba(255,255,255,0)"]},"legend":null}}},
  {"mark":{"type":"text","angle":270,"fontSize":9.5,"color":"#333"},
   "encoding":{"x":{"field":"s","type":"nominal","sort":["E12","G12","E11","E4","T15","E1","M12","E10","T8","M3","T4","T6","M7","T19","G8","D12","G3","E7","D10","G11","G1","G2","G10","G6","G5","M4","M2","T14","G9","M11","M5","E9","E5","T3","F12","G4","T5","E8","M10","M6","E3","E6","E2","M9","G7","M13","D11","T7"]},"text":{"field":"s"}}}
 ]},
{"width":648,"height":26,"data":{"name":"strains"},
 "mark":{"type":"point","filled":true,"stroke":"#111","strokeWidth":0.8,"size":24,"opacity":1},
 "encoding":{"x":{"field":"s","type":"nominal","sort":["E12","G12","E11","E4","T15","E1","M12","E10","T8","M3","T4","T6","M7","T19","G8","D12","G3","E7","D10","G11","G1","G2","G10","G6","G5","M4","M2","T14","G9","M11","M5","E9","E5","T3","F12","G4","T5","E8","M10","M6","E3","E6","E2","M9","G7","M13","D11","T7"],"scale":{"paddingInner":0.2,"paddingOuter":0.1},"axis":null},
  "fill":{"field":"com","type":"nominal","scale":{"domain":["Commercial","Non-commercial"],"range":["#111111","#ffffff"]},
   "legend":{"orient":"none","legendX":-9,"legendY":10,"padding":12,"direction":"horizontal","title":null,"symbolStrokeColor":"#111","symbolStrokeWidth":0.8,"symbolSize":30,"columnPadding":34,"labelFontSize":11.5}}}},
{"hconcat":[
  {"width":289,"height":256,
   "title":{"text":"B","offset":-24},
   "layer":[
    {"data":{"values":[{}]},"mark":{"type":"rule","color":"#c8c8c8","strokeDash":[4,3]},"encoding":{"x":{"datum":0,"type":"quantitative"}}},
    {"data":{"values":[{}]},"mark":{"type":"rule","color":"#c8c8c8","strokeDash":[4,3]},"encoding":{"y":{"datum":0,"type":"quantitative"}}},
    {"data":{"name":"pb"},"mark":{"type":"circle","size":44,"opacity":1},
     "encoding":{"x":{"field":"x","type":"quantitative","scale":{"domain":[-2,2],"nice":false},"axis":{"values":[-2,-1,0,1,2],"format":"d","title":"Before evolution","titleFontSize":11.5,"labelFontSize":12.5,"titlePadding":3}},
      "y":{"field":"y","type":"quantitative","scale":{"domain":[-2.5,1.5],"nice":false},"axis":{"values":[-2.5,-2,-1.5,-1,-0.5,0,0.5,1,1.5],"labelOverlap":false,"labelExpr":"(datum.value == 1 || datum.value == -1 || datum.value == -2) ? '' : datum.label","title":"Doubling time adaptation"}},
      "color":{"field":"c","type":"nominal","scale":{"domain":["Aroma prod.","N. lim.","Glut. prod.","Vit. lim.","High sugar","High EtOH","Fructose","NCR relax."],"range":["#3d7fd6","#ee7b2e","#5fd8c5","#203864","#5a8f2c","#8a8a8a","#f0c330","#a3173f"]},"legend":null}}},
    {"data":{"name":"fb"},"mark":{"type":"line","color":"#333","strokeDash":[3,2],"strokeWidth":1.2},"encoding":{"x":{"field":"x","type":"quantitative"},"y":{"field":"y","type":"quantitative"}}},
    {"data":{"name":"nb"},"mark":{"type":"text","fontSize":11.5,"color":"#222"},"encoding":{"x":{"field":"x","type":"quantitative"},"y":{"field":"y","type":"quantitative"},"text":{"field":"t"}}},
    {"data":{"name":"lb"},"mark":{"type":"text","fontSize":11.5,"fontWeight":"bold","color":"#111"},"encoding":{"x":{"field":"x","type":"quantitative"},"y":{"field":"y","type":"quantitative"},"text":{"field":"t"}}},
    {"data":{"name":"rb"},"mark":{"type":"text","text":"R","fontStyle":"italic","align":"right","fontSize":12,"color":"#222"},"encoding":{"x":{"field":"x","type":"quantitative"},"y":{"field":"y","type":"quantitative"}}},
    {"data":{"name":"rb"},"mark":{"type":"text","align":"left","dx":3,"fontSize":12,"color":"#222"},"encoding":{"x":{"field":"x","type":"quantitative"},"y":{"field":"y","type":"quantitative"},"text":{"field":"t"}}}
   ]},
  {"width":289,"height":256,
   "layer":[
    {"data":{"values":[{}]},"mark":{"type":"rule","color":"#c8c8c8","strokeDash":[4,3]},"encoding":{"x":{"datum":0,"type":"quantitative"}}},
    {"data":{"values":[{}]},"mark":{"type":"rule","color":"#c8c8c8","strokeDash":[4,3]},"encoding":{"y":{"datum":0,"type":"quantitative","axis":null}}},
    {"data":{"name":"pa"},"mark":{"type":"circle","size":44,"opacity":1},
     "encoding":{"x":{"field":"x","type":"quantitative","scale":{"domain":[-3,2],"nice":false},"axis":{"values":[-3,-2,-1,0,1,2],"format":"d","title":"After evolution","titleFontSize":11.5,"labelFontSize":12.5,"titlePadding":3}},
      "y":{"field":"y","type":"quantitative","scale":{"domain":[-2.5,1.5],"nice":false},"axis":null},
      "color":{"field":"c","type":"nominal","scale":{"domain":["Aroma prod.","N. lim.","Glut. prod.","Vit. lim.","High sugar","High EtOH","Fructose","NCR relax."],"range":["#3d7fd6","#ee7b2e","#5fd8c5","#203864","#5a8f2c","#8a8a8a","#f0c330","#a3173f"]},
       "legend":{"orient":"none","legendX":272,"legendY":108,"title":null,"symbolType":"circle","symbolSize":50,"labelFontSize":11.5,"rowPadding":5,"labelOffset":3,"labelExpr":"datum.label == 'High sugar' ? 'High sug.' : datum.label"}}}},
    {"data":{"name":"fa"},"mark":{"type":"line","color":"#333","strokeDash":[3,2],"strokeWidth":1.2},"encoding":{"x":{"field":"x","type":"quantitative"},"y":{"field":"y","type":"quantitative","axis":null}}},
    {"data":{"name":"na"},"mark":{"type":"text","fontSize":11.5,"color":"#222"},"encoding":{"x":{"field":"x","type":"quantitative"},"y":{"field":"y","type":"quantitative","axis":null},"text":{"field":"t"}}},
    {"data":{"name":"ra"},"mark":{"type":"text","text":"R","fontStyle":"italic","align":"right","fontSize":12,"color":"#222"},"encoding":{"x":{"field":"x","type":"quantitative"},"y":{"field":"y","type":"quantitative","axis":null}}},
    {"data":{"name":"ra"},"mark":{"type":"text","align":"left","dx":3,"fontSize":12,"color":"#222"},"encoding":{"x":{"field":"x","type":"quantitative"},"y":{"field":"y","type":"quantitative","axis":null},"text":{"field":"t"}}}
   ]}
 ],
 "spacing":3,
 "title":{"text":"Doubling time (h)","orient":"bottom","anchor":"middle","font":"Lato","fontSize":13,"fontWeight":"normal","color":"#333","offset":7},
 "resolve":{"scale":{"color":"independent"},"legend":{"color":"independent"}}},
{"width":619,"height":256,
 "title":{"text":"C","offset":-22},
 "resolve":{"scale":{"x":"independent","y":"independent","xOffset":"independent"},"axis":{"x":"independent","y":"independent"}},
 "layer":[
  {"data":{"name":"cMain"},
   "layer":[
    {"mark":{"type":"bar"},
     "encoding":{"x":{"field":"s","type":"nominal","sort":["G12","T14","E11","D10","M4","T3","M3","E12","T4","G3","G9","E10","E5","T8","G11","T15","M7","M11","D12","G10","M5","G1","F12","G6","E7","G5","M10","M2","G7","G2","G8","T6","T5","E2","T19","E8","M13","T7","M12","G4","E6","E1","M6","M9","E4","E3","D11","E9"],"scale":{"paddingInner":0,"paddingOuter":0.2},"axis":null},
      "y":{"field":"t","type":"quantitative","scale":{"domain":[-2,1],"nice":false},"axis":{"values":[-2,-1.5,-1,-0.5,0,0.5,1],"labelOverlap":false,"title":"Doubling time adaptation"}},
      "xOffset":{"datum":"top","scale":{"domain":["top","mean"],"paddingInner":0.06}},
      "color":{"field":"c","type":"nominal","scale":{"domain":["Colored: Top replicate","High EtOH","Fructose","Vit. lim.","N. lim.","Mean of replicates","Glut. prod.","NCR relax.","High sugar"],"range":["rgba(255,255,255,0)","#8a8a8a","#f0c330","#22407c","#ee7b2e","#000000","#5fd8c5","#a3173f","#5a8f2c"]},
       "legend":{"orient":"none","legendX":33,"legendY":12,"columns":5,"direction":"horizontal","title":null,"symbolType":"square","symbolSize":100,"labelFontSize":11.5,"columnPadding":36,"rowPadding":5}}}},
    {"mark":{"type":"bar"},
     "encoding":{"x":{"field":"s","type":"nominal","sort":["G12","T14","E11","D10","M4","T3","M3","E12","T4","G3","G9","E10","E5","T8","G11","T15","M7","M11","D12","G10","M5","G1","F12","G6","E7","G5","M10","M2","G7","G2","G8","T6","T5","E2","T19","E8","M13","T7","M12","G4","E6","E1","M6","M9","E4","E3","D11","E9"]},
      "y":{"field":"m","type":"quantitative"},"xOffset":{"datum":"mean"},"color":{"datum":"Mean of replicates"}}},
    {"mark":{"type":"rule","color":"#111"},"encoding":{"x":{"field":"s","type":"nominal","sort":["G12","T14","E11","D10","M4","T3","M3","E12","T4","G3","G9","E10","E5","T8","G11","T15","M7","M11","D12","G10","M5","G1","F12","G6","E7","G5","M10","M2","G7","G2","G8","T6","T5","E2","T19","E8","M13","T7","M12","G4","E6","E1","M6","M9","E4","E3","D11","E9"]},"y":{"field":"tl","type":"quantitative"},"y2":{"field":"th"},"xOffset":{"datum":"top"}}},
    {"mark":{"type":"tick","color":"#111","size":4,"thickness":1},"encoding":{"x":{"field":"s","type":"nominal","sort":["G12","T14","E11","D10","M4","T3","M3","E12","T4","G3","G9","E10","E5","T8","G11","T15","M7","M11","D12","G10","M5","G1","F12","G6","E7","G5","M10","M2","G7","G2","G8","T6","T5","E2","T19","E8","M13","T7","M12","G4","E6","E1","M6","M9","E4","E3","D11","E9"]},"y":{"field":"tl","type":"quantitative"},"xOffset":{"datum":"top"}}},
    {"mark":{"type":"tick","color":"#111","size":4,"thickness":1},"encoding":{"x":{"field":"s","type":"nominal","sort":["G12","T14","E11","D10","M4","T3","M3","E12","T4","G3","G9","E10","E5","T8","G11","T15","M7","M11","D12","G10","M5","G1","F12","G6","E7","G5","M10","M2","G7","G2","G8","T6","T5","E2","T19","E8","M13","T7","M12","G4","E6","E1","M6","M9","E4","E3","D11","E9"]},"y":{"field":"th","type":"quantitative"},"xOffset":{"datum":"top"}}},
    {"mark":{"type":"rule","color":"#a8a8a8"},"encoding":{"x":{"field":"s","type":"nominal","sort":["G12","T14","E11","D10","M4","T3","M3","E12","T4","G3","G9","E10","E5","T8","G11","T15","M7","M11","D12","G10","M5","G1","F12","G6","E7","G5","M10","M2","G7","G2","G8","T6","T5","E2","T19","E8","M13","T7","M12","G4","E6","E1","M6","M9","E4","E3","D11","E9"]},"y":{"field":"ml","type":"quantitative"},"y2":{"field":"mh"},"xOffset":{"datum":"mean"}}},
    {"mark":{"type":"tick","color":"#a8a8a8","size":4,"thickness":1},"encoding":{"x":{"field":"s","type":"nominal","sort":["G12","T14","E11","D10","M4","T3","M3","E12","T4","G3","G9","E10","E5","T8","G11","T15","M7","M11","D12","G10","M5","G1","F12","G6","E7","G5","M10","M2","G7","G2","G8","T6","T5","E2","T19","E8","M13","T7","M12","G4","E6","E1","M6","M9","E4","E3","D11","E9"]},"y":{"field":"ml","type":"quantitative"},"xOffset":{"datum":"mean"}}},
    {"mark":{"type":"tick","color":"#a8a8a8","size":4,"thickness":1},"encoding":{"x":{"field":"s","type":"nominal","sort":["G12","T14","E11","D10","M4","T3","M3","E12","T4","G3","G9","E10","E5","T8","G11","T15","M7","M11","D12","G10","M5","G1","F12","G6","E7","G5","M10","M2","G7","G2","G8","T6","T5","E2","T19","E8","M13","T7","M12","G4","E6","E1","M6","M9","E4","E3","D11","E9"]},"y":{"field":"mh","type":"quantitative"},"xOffset":{"datum":"mean"}}},
    {"mark":{"type":"rule","color":"#777"},"encoding":{"y":{"datum":0,"type":"quantitative"}}}
   ]},
  {"data":{"name":"cInset"},
   "layer":[
    {"mark":{"type":"bar"},
     "encoding":{"x":{"field":"g","type":"nominal","sort":["G12","T14","D10","M4","T15","T3","G5"],"scale":{"range":[273,575],"paddingInner":0.25,"paddingOuter":0},"axis":null},
      "y":{"field":"t","type":"quantitative","scale":{"domain":[-2.048,4.12],"nice":false,"zero":false},"axis":{"orient":"left","offset":-270,"values":[0,-1,-2],"domain":false,"title":null,"labelFontSize":12,"labelOverlap":false}},
      "xOffset":{"datum":"top","scale":{"domain":["top","mean"],"paddingInner":0.24}},
      "color":{"field":"c","type":"nominal"}}},
    {"mark":{"type":"bar"},"encoding":{"x":{"field":"g","type":"nominal","sort":["G12","T14","D10","M4","T15","T3","G5"]},"y":{"field":"m","type":"quantitative"},"xOffset":{"datum":"mean"},"color":{"datum":"Mean of replicates"}}},
    {"mark":{"type":"rule","color":"#111"},"encoding":{"x":{"field":"g","type":"nominal","sort":["G12","T14","D10","M4","T15","T3","G5"]},"y":{"field":"tl","type":"quantitative"},"y2":{"field":"th"},"xOffset":{"datum":"top"}}},
    {"mark":{"type":"tick","color":"#111","size":6,"thickness":1},"encoding":{"x":{"field":"g","type":"nominal","sort":["G12","T14","D10","M4","T15","T3","G5"]},"y":{"field":"tl","type":"quantitative"},"xOffset":{"datum":"top"}}},
    {"mark":{"type":"tick","color":"#111","size":6,"thickness":1},"encoding":{"x":{"field":"g","type":"nominal","sort":["G12","T14","D10","M4","T15","T3","G5"]},"y":{"field":"th","type":"quantitative"},"xOffset":{"datum":"top"}}},
    {"mark":{"type":"rule","color":"#a8a8a8"},"encoding":{"x":{"field":"g","type":"nominal","sort":["G12","T14","D10","M4","T15","T3","G5"]},"y":{"field":"ml","type":"quantitative"},"y2":{"field":"mh"},"xOffset":{"datum":"mean"}}},
    {"mark":{"type":"tick","color":"#a8a8a8","size":6,"thickness":1},"encoding":{"x":{"field":"g","type":"nominal","sort":["G12","T14","D10","M4","T15","T3","G5"]},"y":{"field":"ml","type":"quantitative"},"xOffset":{"datum":"mean"}}},
    {"mark":{"type":"tick","color":"#a8a8a8","size":6,"thickness":1},"encoding":{"x":{"field":"g","type":"nominal","sort":["G12","T14","D10","M4","T15","T3","G5"]},"y":{"field":"mh","type":"quantitative"},"xOffset":{"datum":"mean"}}},
    {"mark":{"type":"text","text":"- - -","dx":3,"fontSize":11,"color":"#333"},"encoding":{"x":{"field":"g","type":"nominal","sort":["G12","T14","D10","M4","T15","T3","G5"]},"y":{"field":"t","type":"quantitative"},"xOffset":{"datum":"mean"}}},
    {"mark":{"type":"text","dx":3,"dy":11,"fontSize":11.5,"color":"#333"},"encoding":{"x":{"field":"g","type":"nominal","sort":["G12","T14","D10","M4","T15","T3","G5"]},"y":{"field":"t","type":"quantitative"},"xOffset":{"datum":"mean"},"text":{"field":"f"}}},
    {"mark":{"type":"text","baseline":"bottom","dy":-1,"fontSize":12,"color":"#333"},"encoding":{"x":{"field":"g","type":"nominal","sort":["G12","T14","D10","M4","T15","T3","G5"]},"y":{"datum":0,"type":"quantitative"},"text":{"field":"g"}}},
    {"data":{"values":[{}]},"mark":{"type":"rule","color":"#555"},"encoding":{"x":{"datum":"G12","type":"nominal","bandPosition":0},"x2":{"datum":"G5","bandPosition":1},"y":{"datum":0,"type":"quantitative"}}},
    {"data":{"values":[{}]},"mark":{"type":"rule","color":"#555","xOffset":-3},"encoding":{"x":{"datum":"G12","type":"nominal","bandPosition":0},"y":{"datum":0,"type":"quantitative"},"y2":{"datum":-2}}}
   ]}
 ]},
{"width":619,"height":30,"data":{"name":"strains"},
 "layer":[
  {"mark":{"type":"bar","cornerRadius":3},
   "encoding":{"x":{"field":"s","type":"nominal","sort":["G12","T14","E11","D10","M4","T3","M3","E12","T4","G3","G9","E10","E5","T8","G11","T15","M7","M11","D12","G10","M5","G1","F12","G6","E7","G5","M10","M2","G7","G2","G8","T6","T5","E2","T19","E8","M13","T7","M12","G4","E6","E1","M6","M9","E4","E3","D11","E9"],"scale":{"paddingInner":0.12,"paddingOuter":0.2},"axis":null},
    "color":{"field":"h","type":"nominal","scale":{"domain":["tan","yellow","purple","none"],"range":["#d4c4ab","#f3f33f","#cda9ee","rgba(255,255,255,0)"]},"legend":null}}},
  {"mark":{"type":"text","angle":270,"fontSize":10,"color":"#333"},
   "encoding":{"x":{"field":"s","type":"nominal","sort":["G12","T14","E11","D10","M4","T3","M3","E12","T4","G3","G9","E10","E5","T8","G11","T15","M7","M11","D12","G10","M5","G1","F12","G6","E7","G5","M10","M2","G7","G2","G8","T6","T5","E2","T19","E8","M13","T7","M12","G4","E6","E1","M6","M9","E4","E3","D11","E9"]},"text":{"field":"s"}}}
 ]}
]
}
